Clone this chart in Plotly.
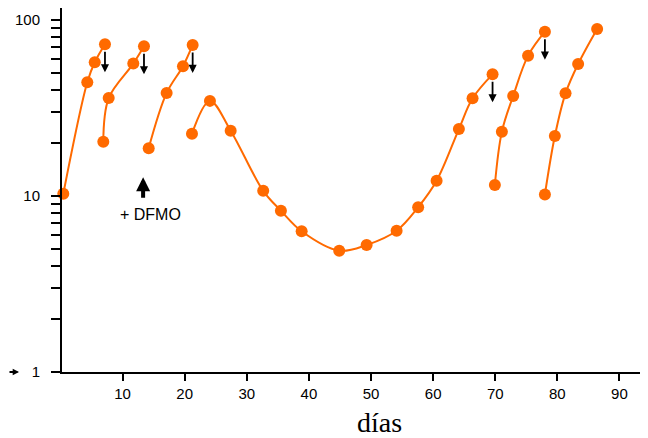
import math
import plotly.graph_objects as go

# ---- data ----
DAYS_1 = [0.45, 4.31, 5.51, 7.16]
CELLS_1 = [10.3, 44.3, 57.5, 72.8]

DAYS_2 = [6.89, 7.76, 11.72, 13.44]
CELLS_2 = [20.3, 36.0, 56.5, 70.9]

DAYS_3 = [14.20, 17.09, 19.72, 21.28]
CELLS_3 = [18.7, 38.5, 54.6, 72.1]

DAYS_4 = [21.17, 24.06, 27.40, 32.64, 35.49, 38.83, 44.88, 49.29, 54.12,
          57.59, 60.56, 64.15, 66.35, 69.57]
CELLS_4 = [22.6, 34.7, 23.5, 10.7, 8.25, 6.30, 4.89, 5.27, 6.35,
           8.63, 12.2, 24.0, 35.9, 49.1]

DAYS_5 = [69.94, 71.07, 72.89, 75.29, 78.0]
CELLS_5 = [11.55, 23.2, 37.0, 62.7, 85.8]

DAYS_6 = [78.0, 79.6, 81.32, 83.35, 86.41]
CELLS_6 = [10.2, 21.9, 38.3, 56.2, 88.9]

DILUTED = [1, 2, 3, 4, 5]          # series whose last point is followed by a dilution arrow
DFMO_DAY = 13.3
DFMO_LABEL = "+ DFMO"

X_TICKS = [10, 20, 30, 40, 50, 60, 70, 80, 90]
Y_TICK_VALUES = [1, 2, 3, 4, 5, 6, 7, 8, 9,
                 10, 20, 30, 40, 50, 60, 70, 80, 90, 100]
Y_TICK_TEXT = ["1", "", "", "", "", "", "", "", "",
               "10", "", "", "", "", "", "", "", "", "100"]
X_TITLE = "días"

SERIES = [(DAYS_1, CELLS_1), (DAYS_2, CELLS_2), (DAYS_3, CELLS_3),
          (DAYS_4, CELLS_4), (DAYS_5, CELLS_5), (DAYS_6, CELLS_6)]

ORANGE = "#ff6a00"
SANS = "Liberation Sans, Arial, sans-serif"
SERIF = "Liberation Serif, Times New Roman, serif"

fig = go.Figure()
for xs, ys in SERIES:
    fig.add_trace(go.Scatter(
        x=xs, y=ys, mode="lines+markers",
        line=dict(color=ORANGE, width=2, shape="spline", smoothing=1.0),
        marker=dict(color=ORANGE, size=12, line=dict(width=0)),
        cliponaxis=False, showlegend=False, hoverinfo="skip"))

annotations = []
for idx in DILUTED:
    xs, ys = SERIES[idx - 1]
    annotations.append(dict(
        x=xs[-1], y=math.log10(ys[-1]), xref="x", yref="y",
        text="", showarrow=True, ax=0, ay=-22, yshift=-28,
        arrowhead=2, arrowsize=0.9, arrowwidth=1.8, arrowcolor="black"))

# DFMO arrow and label
annotations.append(dict(
    x=DFMO_DAY, y=0.535, xref="x", yref="paper",
    text="", showarrow=True, ax=0, ay=22,
    arrowhead=2, arrowsize=0.7, arrowwidth=4, arrowcolor="black"))
annotations.append(dict(
    x=DFMO_DAY, y=0.433, xref="x", yref="paper", xshift=7,
    text=DFMO_LABEL, showarrow=False, yanchor="middle", xanchor="center",
    font=dict(family=SANS, size=16, color="black")))

# left arrow pointing at the value 1
annotations.append(dict(
    x=-0.0734, y=0, xref="paper", yref="y",
    text="", showarrow=True, ax=-12, ay=0,
    arrowhead=2, arrowsize=0.7, arrowwidth=1.8, arrowcolor="black"))

# x title
annotations.append(dict(
    x=0.541, y=-0.140, xref="paper", yref="paper",
    text=X_TITLE, showarrow=False, xanchor="center", yanchor="middle",
    font=dict(family=SERIF, size=28, color="black")))

# the page body has an 8px margin, so the figure is sized to end at the window edge
fig.update_layout(
    width=640, height=430,
    margin=dict(l=54, r=0, t=0, b=66),
    paper_bgcolor="white", plot_bgcolor="white",
    annotations=annotations,
    xaxis=dict(range=[0.24, 94.6], showline=True, linecolor="black", linewidth=2,
               ticks="outside", ticklen=7, tickwidth=1.5, tickcolor="black",
               tickvals=X_TICKS, showgrid=False, zeroline=False,
               tickfont=dict(family=SANS, size=15, color="black")),
    yaxis=dict(type="log", range=[0, 2.068], showline=True, linecolor="black",
               linewidth=2, ticks="outside", ticklen=9, tickwidth=1.5,
               tickcolor="black", tickvals=Y_TICK_VALUES, ticktext=Y_TICK_TEXT,
               ticklabelstandoff=8,
               showgrid=False, zeroline=False,
               tickfont=dict(family=SANS, size=15, color="black")),
)

fig.write_html("out.html")
